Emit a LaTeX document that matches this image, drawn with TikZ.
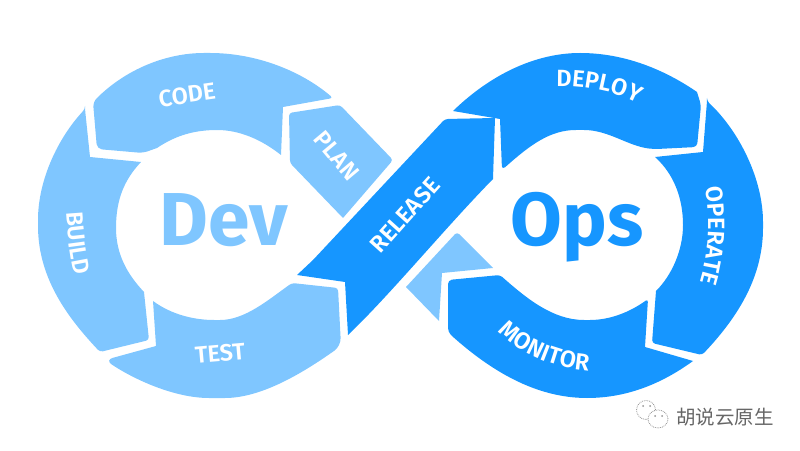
\documentclass[tikz,border=0pt]{standalone}
\usepackage{fontspec}
\setmainfont{Fira Sans}
\newfontfamily\cjk{Noto Sans CJK SC}
\newfontfamily\stepfont{Fira Sans SemiBold}
\usetikzlibrary{decorations.text}
\definecolor{devblue}{HTML}{7FC6FF}
\definecolor{opsblue}{HTML}{1696FF}
\definecolor{markgray}{HTML}{666666}
\tikzset{
  devseg/.style={fill=devblue,rounded corners=3pt},
  opsseg/.style={fill=opsblue,rounded corners=3pt},
  steplabel/.style={text=white,font=\fontsize{23.5}{24}\stepfont,inner sep=0pt},
  biglabel/.style={font=\fontsize{75}{75}\selectfont\bfseries,inner sep=0pt,anchor=base},
  bubble/.style={draw=markgray!70,fill=white,densely dotted,line width=0.8pt},
  eye/.style={fill=markgray!70},
  curved/.style={decorate,decoration={text along path,text align=center,text={|\fontsize{23.5}{24}\stepfont\color{white}|#1}}}
}
\begin{document}
\begin{tikzpicture}[x=1pt,y=1pt]
  \useasboundingbox (0,0) rectangle (800,450);
  % left loop
  \fill[devseg] (85,341) [sharp corners] -- (90,293) -- (141,288)
    .. controls (124,270) and (116,250) .. (116,222)
    .. controls (116,195) and (128,175) .. (144,158)
    [rounded corners=3pt] -- (149,110) -- (100,98)
    .. controls (70,130) and (38,170) .. (38,227)
    .. controls (38,270) and (58,312) .. (85,341) -- cycle;
  \fill[devseg] (93,348)
    .. controls (125,380) and (165,397) .. (207,397)
    .. controls (255,397) and (300,380) .. (333,352)
    [sharp corners] -- (283,343) -- (281,295)
    .. controls (262,310) and (240,320) .. (217,320)
    .. controls (190,320) and (172,312) .. (157,302)
    [rounded corners=5pt] -- (143,297) -- (97,301) -- cycle;
  \fill[devseg] (289,337) -- (340,345) -- (393,290) [sharp corners] -- (343,232)
    [rounded corners=3pt] -- (290,287) -- cycle;
  \fill[devseg] (153,149)
    .. controls (172,135) and (195,130) .. (217,130)
    .. controls (245,130) and (268,150) .. (292,167)
    -- (338,162) [rounded corners=8pt] -- (341,104)
    .. controls (300,75) and (260,52) .. (217,52)
    .. controls (175,52) and (135,70) .. (105,90)
    [sharp corners] -- (156,104) -- cycle;
  \fill[devseg] (457,218) [sharp corners] -- (493,182) -- (442,177) -- (439,129)
    -- (406,163) [rounded corners=3pt] -- cycle;
  % centre band
  \fill[opsseg] (297,175) [sharp corners] -- (345,168) -- (348,115)
    .. controls (390,155) and (445,222) .. (493,271)
    -- (495,332) [rounded corners=3pt] -- (445,331) [sharp corners] -- (313,190) -- cycle;
  % right loop
  \fill[opsseg] (453,339) [sharp corners]
    .. controls (490,375) and (535,397) .. (580,397)
    .. controls (625,397) and (665,380) .. (697,358)
    [rounded corners=4pt] -- (701,345) -- (697,303) -- (657,301)
    .. controls (630,302) and (610,320) .. (580,320)
    .. controls (550,320) and (530,305) .. (502,280)
    [sharp corners] -- (500,331) -- cycle;
  \fill[opsseg] (707,349) [sharp corners] -- (703,298) -- (655,293)
    .. controls (675,275) and (683,250) .. (683,225)
    .. controls (683,200) and (672,175) .. (656,159)
    [rounded corners=3pt] -- (652,107) -- (702,95)
    .. controls (740,135) and (763,175) .. (763,225)
    .. controls (763,270) and (740,318) .. (707,349) -- cycle;
  \fill[opsseg] (448,170) -- (500,175)
    .. controls (525,153) and (552,130) .. (587,130)
    .. controls (610,130) and (630,138) .. (648,151)
    [sharp corners] -- (645,103) -- (693,89)
    .. controls (660,65) and (625,52) .. (587,52)
    .. controls (535,52) and (490,80) .. (452,114)
    [rounded corners=4pt] -- (448,118) -- cycle;
  % labels
  \node[biglabel,text=devblue] (dev) at (223.5,204) {Dev};
  \node[biglabel,text=opsblue] (ops) at (577,204) {Ops};
  \node[steplabel,rotate=8] (code) at (187,355) {CODE};
  \node[steplabel,rotate=-50] (plan) at (337,294) {PLAN};
  \node[steplabel,rotate=5] (test) at (220,97) {TEST};
  \node[steplabel,rotate=48] (release) at (405,235) {RELEASE};
  \path[curved=BUILD] (66,240) .. controls (67,220) and (70,195) .. (75,172);
  \path[curved=DEPLOY] (553,363) .. controls (573,365) and (618,360) .. (640,345);
  \path[curved=OPERATE] (705,262) .. controls (710,235) and (710,200) .. (700,168);
  \path[curved=MONITOR] (491,126) .. controls (516,96) and (558,79) .. (599,79);
  % watermark
  \draw[bubble] (646,40) circle (9.5pt);
  \fill[eye] (643,44) circle (1pt) (650,44) circle (1pt);
  \draw[bubble] (658,31) ellipse (10pt and 9pt);
  \fill[eye] (655,34) circle (1pt) (662,34) circle (1pt);
  \node[text=markgray,font=\cjk\fontsize{19.5}{20}\selectfont,inner sep=0pt] (mark) at (725,33) {胡说云原生};
\end{tikzpicture}
\end{document}
